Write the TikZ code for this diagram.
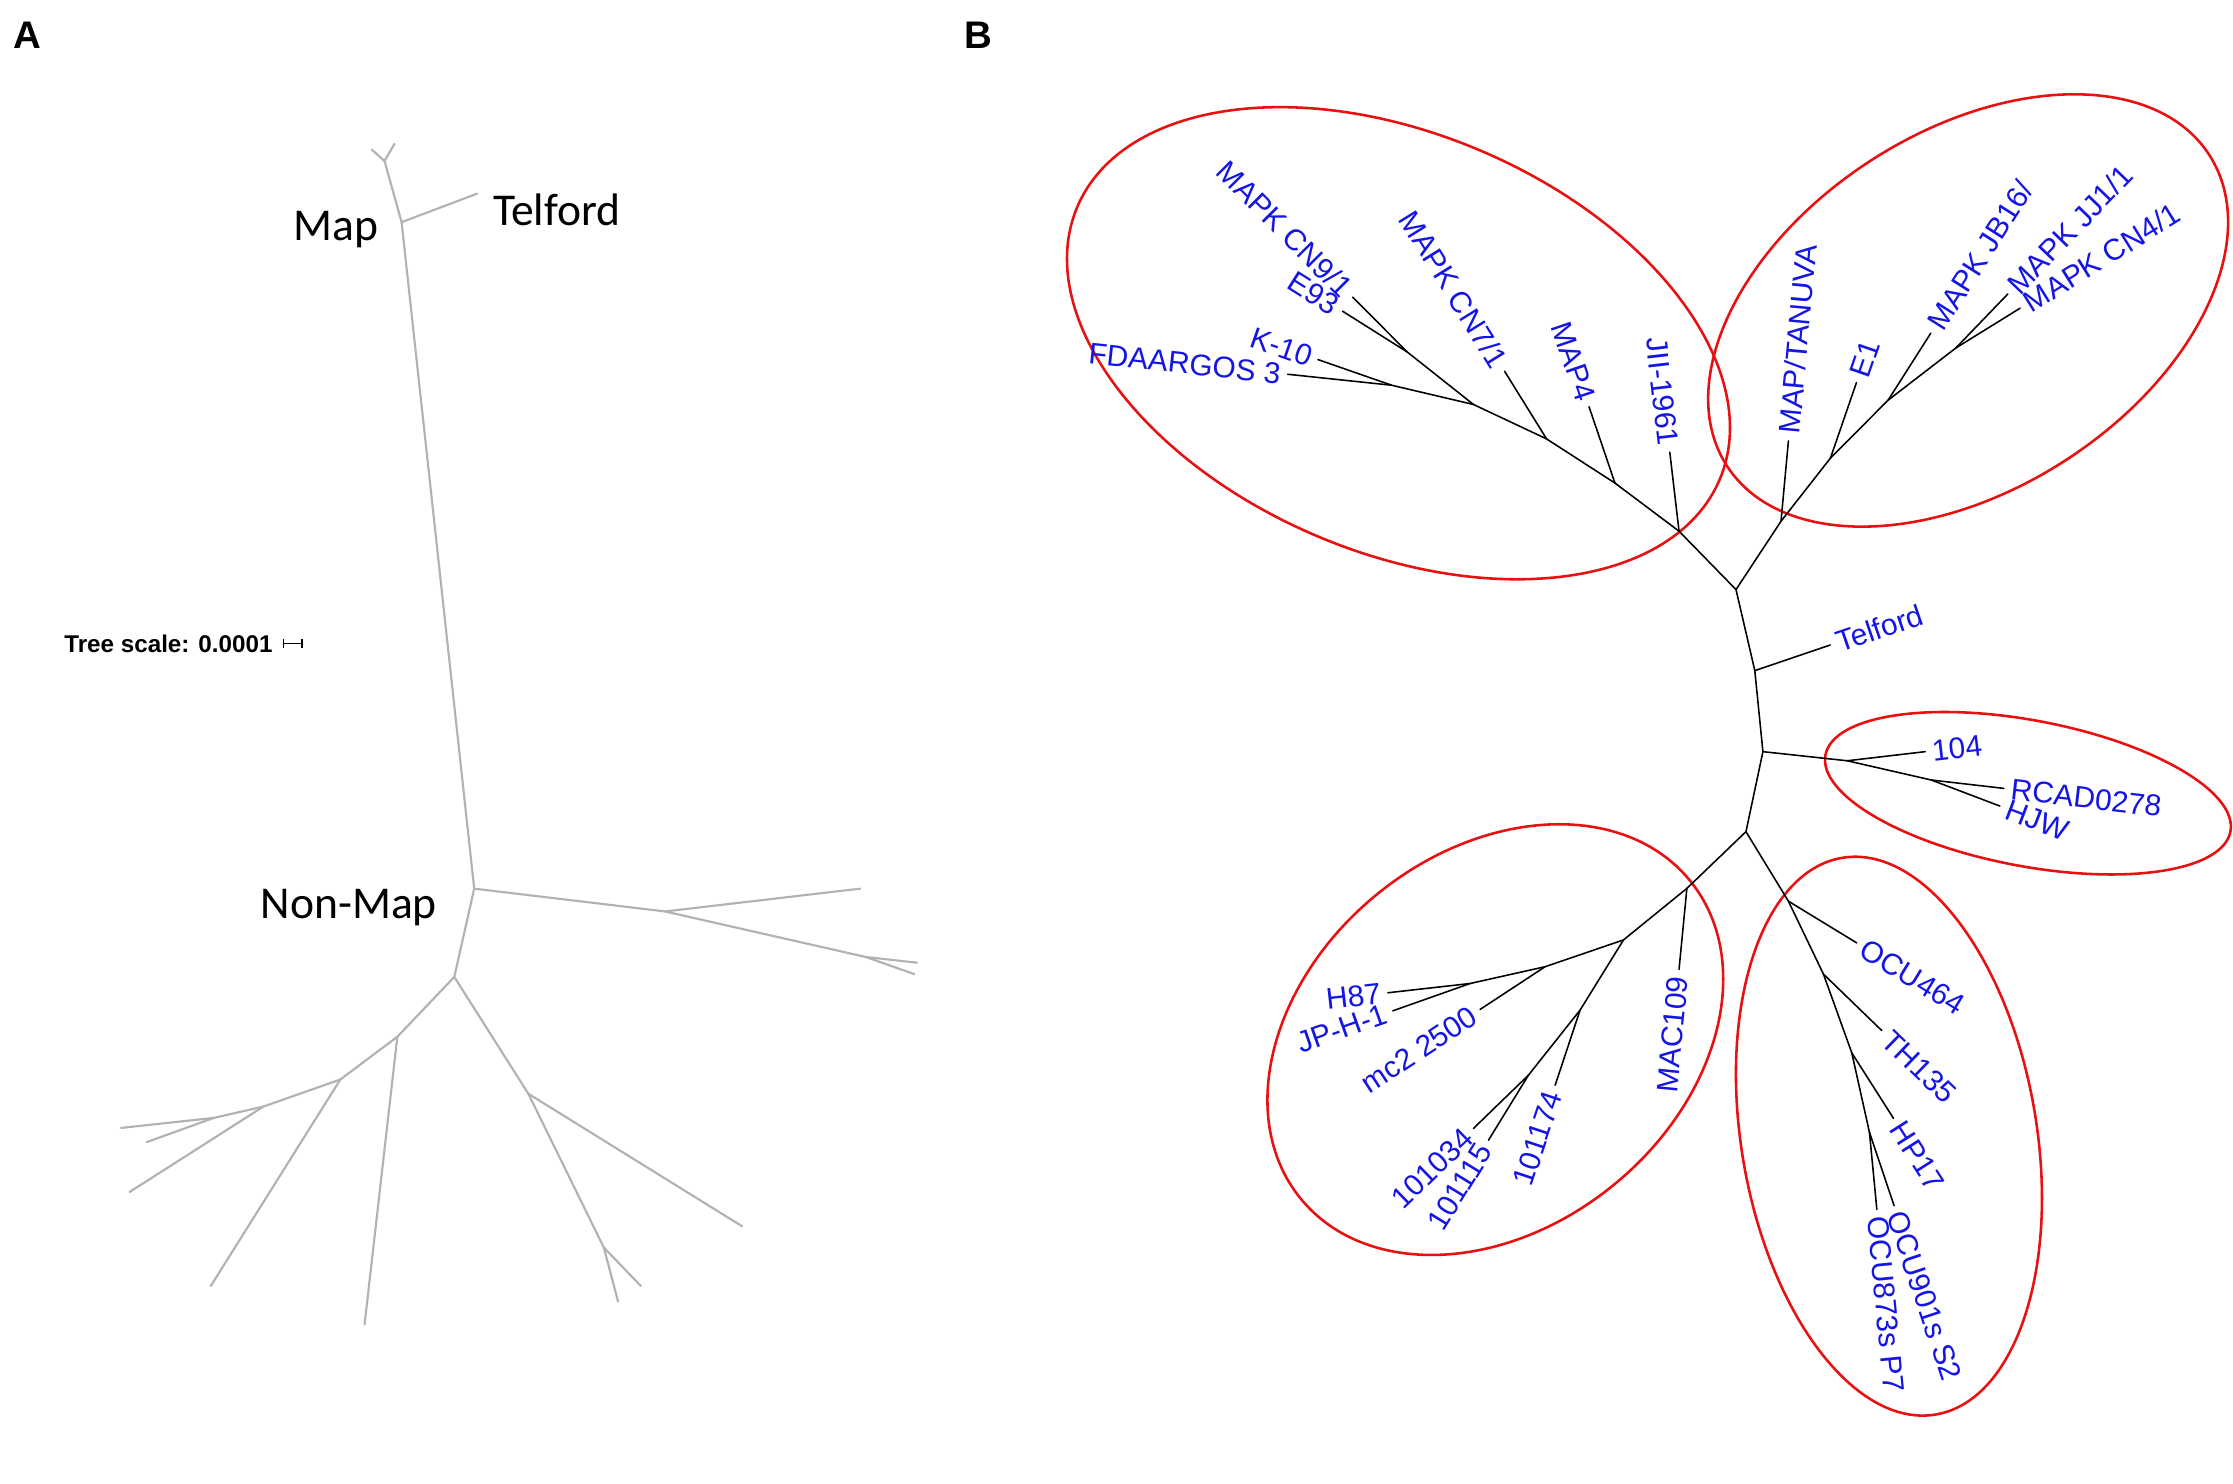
\documentclass[tikz,border=0pt]{standalone}
\usepackage{fontspec}
\setmainfont{Liberation Sans}
\newfontfamily\calibrifont{Carlito}
\definecolor{labblue}{RGB}{20,20,230}
\definecolor{ellred}{RGB}{232,16,16}
\definecolor{treegray}{RGB}{178,178,178}
\begin{document}
\begin{tikzpicture}[x=1pt,y=-1pt,
 grayedge/.style={draw=treegray, line width=1.5pt, line cap=round, line join=round},
 treeedge/.style={draw=black, line width=1.1pt, line cap=round, line join=round},
 lab/.style={text=labblue, font=\fontsize{21}{21}\selectfont, inner sep=4.5pt, sloped, pos=1},
 labw/.style={lab, anchor=west},
 labe/.style={lab, anchor=east},
 clade/.style={draw=ellred, line width=1.8pt},
 cal/.style={font=\calibrifont\fontsize{32}{32}\selectfont, text=black, inner sep=0pt},
 panel/.style={font=\bfseries\fontsize{27}{27}\selectfont, inner sep=0pt}]
\fill[white] (0,0) rectangle (1568,1042);
\useasboundingbox (0,0) rectangle (1568,1042);

% ---------------- Panel A ----------------
\node[panel] (pA) at (19,25) {A};
\node[panel] (pB) at (687,25) {B};

\coordinate (a1) at (261,105);
\coordinate (a2) at (277,101);
\coordinate (aj) at (270,113);
\coordinate (amap) at (282,156);
\coordinate (atel) at (335,136);
\coordinate (anon) at (333,624);
\coordinate (ar1) at (467,640);
\coordinate (ar1t) at (604,624);
\coordinate (ar2) at (608,672);
\coordinate (ar2a) at (644,676);
\coordinate (ar2b) at (642,684);
\coordinate (ad) at (319,686);
\coordinate (al1) at (279,728);
\coordinate (al2) at (239,758);
\coordinate (al3) at (185,777);
\coordinate (al4) at (150,785);
\coordinate (alt1) at (85,792);
\coordinate (alt2) at (103,802);
\coordinate (alt3) at (91,837);
\coordinate (alt4) at (148,903);
\coordinate (alt5) at (256,930);
\coordinate (ar3) at (371,768);
\coordinate (art1) at (521,861);
\coordinate (ar4) at (424,876);
\coordinate (art2) at (450,903);
\coordinate (art3) at (434,914);

\draw[grayedge] (a1) -- (aj) -- (a2);
\draw[grayedge] (aj) -- (amap) -- (anon) -- (ad);
\draw[grayedge] (amap) -- (atel);
\draw[grayedge] (anon) -- (ar1) -- (ar1t);
\draw[grayedge] (ar1) -- (ar2) -- (ar2a);
\draw[grayedge] (ar2) -- (ar2b);
\draw[grayedge] (ad) -- (al1) -- (al2) -- (al3) -- (al4) -- (alt1);
\draw[grayedge] (al4) -- (alt2);
\draw[grayedge] (al3) -- (alt3);
\draw[grayedge] (al2) -- (alt4);
\draw[grayedge] (al1) -- (alt5);
\draw[grayedge] (ad) -- (ar3) -- (art1);
\draw[grayedge] (ar3) -- (ar4) -- (art2);
\draw[grayedge] (ar4) -- (art3);

\node[cal] (lMap) at (236,161) {Map};
\node[cal] (lTelA) at (391,147) {Telford};
\node[cal] (lNon) at (245,637) {Non-Map};

\node[font=\bfseries\fontsize{17}{17}\selectfont, inner sep=0pt, anchor=west] (tscale) at (45,452) {Tree scale: 0.0001};
\coordinate (sb1) at (199,452);
\coordinate (sb2) at (212,452);
\draw[line width=1pt] (sb1) -- (sb2);
\draw[line width=1pt] ([yshift=3pt]sb1) -- ([yshift=-3pt]sb1);
\draw[line width=1pt] ([yshift=3pt]sb2) -- ([yshift=-3pt]sb2);

% ---------------- Panel B ----------------
% clade ellipses
\draw[clade, rotate around={-23:(982,241)}] (982,241) ellipse [x radius=245pt, y radius=147pt];
\draw[clade, rotate around={32.8:(1382,218)}] (1382,218) ellipse [x radius=201.5pt, y radius=125.5pt];
\draw[clade, rotate around={-10.7:(1424,557)}] (1424,557) ellipse [x radius=144.7pt, y radius=51.2pt];
\draw[clade, rotate around={39.3:(1050,730)}] (1050,730) ellipse [x radius=176.5pt, y radius=131.6pt];
\draw[clade, rotate around={9.55:(1326.4,797.8)}] (1326.4,797.8) ellipse [x radius=103.7pt, y radius=198.2pt];

% internal nodes
\coordinate (nTop) at (1219,414);
\coordinate (nJ) at (1179,373);
\coordinate (nM4) at (1134,339.2);
\coordinate (nC7) at (1086,308.2);
\coordinate (nA) at (1034.6,284);
\coordinate (nB) at (988.2,247.2);
\coordinate (nK) at (977.2,270.5);
\coordinate (nT) at (1250.6,366);
\coordinate (nE1) at (1285.3,321.7);
\coordinate (nJB) at (1325.8,281);
\coordinate (nJJ) at (1373.3,244.4);
\coordinate (nTel) at (1232.2,470.9);
\coordinate (n104) at (1237.9,527.8);
\coordinate (nR1) at (1297.1,534.2);
\coordinate (nR2) at (1356.1,547.7);
\coordinate (nLow) at (1226,584);
\coordinate (nMAC) at (1184.5,623.8);
\coordinate (nL1) at (1140,660);
\coordinate (nL2) at (1085,678.8);
\coordinate (nL3) at (1032.3,690.6);
\coordinate (nL4) at (1109.5,709.3);
\coordinate (nL5) at (1073.3,754.9);
\coordinate (nO1) at (1255.8,632.8);
\coordinate (nO2) at (1280.4,684);
\coordinate (nO3) at (1300.3,739.3);
\coordinate (nO4) at (1312.7,795.1);
% tips
\coordinate (tJII) at (1172.5,317.5);
\coordinate (tM4) at (1115.8,285.6);
\coordinate (tC7) at (1056.5,260.7);
\coordinate (tC9) at (949.9,208.7);
\coordinate (tE93) at (942.7,218.5);
\coordinate (tK10) at (925.5,252.5);
\coordinate (tFDA) at (904.2,262.8);
\coordinate (tTAN) at (1255.8,309.6);
\coordinate (tE1) at (1303.6,268.6);
\coordinate (tJB) at (1355.8,233.9);
\coordinate (tJJ) at (1409.9,206.4);
\coordinate (tCN4) at (1418.5,216.4);
\coordinate (tTel) at (1285.2,452.9);
\coordinate (t104) at (1351.8,527.8);
\coordinate (tRCAD) at (1407.1,553.6);
\coordinate (tHJW) at (1404.3,566);
\coordinate (tMAC) at (1179,680.7);
\coordinate (tMC2) at (1039.3,708.8);
\coordinate (tH87) at (974.5,697.1);
\coordinate (tJPH) at (978,709.8);
\coordinate (t174) at (1092,762);
\coordinate (t034) at (1034.6,792.4);
\coordinate (t115) at (1045.2,800.6);
\coordinate (tO464) at (1303.8,662.1);
\coordinate (tTH) at (1321.4,723.7);
\coordinate (tHP) at (1329.6,785.3);
\coordinate (tO901) at (1330,846.6);
\coordinate (tO873) at (1317.9,849.2);

% backbone
\draw[treeedge] (nA) -- (nC7) -- (nM4) -- (nJ) -- (nTop) -- (nT) -- (nE1) -- (nJB) -- (nJJ);
\draw[treeedge] (nTop) -- (nTel) -- (n104) -- (nLow) -- (nMAC) -- (nL1) -- (nL2) -- (nL3);
\draw[treeedge] (nLow) -- (nO1) -- (nO2) -- (nO3) -- (nO4);
\draw[treeedge] (n104) -- (nR1) -- (nR2);
\draw[treeedge] (nA) -- (nB);
\draw[treeedge] (nA) -- (nK);
\draw[treeedge] (nL1) -- (nL4) -- (nL5);

% terminal branches with labels
\draw[treeedge] (nJ) -- (tJII) node[labe] (lJII) {JII-1961};
\draw[treeedge] (nM4) -- (tM4) node[labe] (lM4) {MAP4};
\draw[treeedge] (nC7) -- (tC7) node[labe] (lC7) {MAPK CN7/1};
\draw[treeedge] (nB) -- (tC9) node[labe] (lC9) {MAPK CN9/1};
\draw[treeedge] (nB) -- (tE93) node[labe] (lE93) {E93};
\draw[treeedge] (nK) -- (tK10) node[labe] (lK10) {K-10};
\draw[treeedge] (nK) -- (tFDA) node[labe] (lFDA) {FDAARGOS 3};
\draw[treeedge] (nT) -- (tTAN) node[labw] (lTAN) {MAP/TANUVA};
\draw[treeedge] (nE1) -- (tE1) node[labw] (lE1) {E1};
\draw[treeedge] (nJB) -- (tJB) node[labw] (lJB) {MAPK JB16/};
\draw[treeedge] (nJJ) -- (tJJ) node[labw] (lJJ) {MAPK JJ1/1};
\draw[treeedge] (nJJ) -- (tCN4) node[labw] (lCN4) {MAPK CN4/1};
\draw[treeedge] (nTel) -- (tTel) node[labw] (lTel) {Telford};
\draw[treeedge] (nR1) -- (t104) node[labw] (l104) {104};
\draw[treeedge] (nR2) -- (tRCAD) node[labw] (lRCAD) {RCAD0278};
\draw[treeedge] (nR2) -- (tHJW) node[labw] (lHJW) {HJW};
\draw[treeedge] (nMAC) -- (tMAC) node[labe] (lMAC) {MAC109};
\draw[treeedge] (nL2) -- (tMC2) node[labe] (lMC2) {mc2 2500};
\draw[treeedge] (nL3) -- (tH87) node[labe] (lH87) {H87};
\draw[treeedge] (nL3) -- (tJPH) node[labe] (lJPH) {JP-H-1};
\draw[treeedge] (nL4) -- (t174) node[labe] (l174) {101174};
\draw[treeedge] (nL5) -- (t034) node[labe] (l034) {101034};
\draw[treeedge] (nL5) -- (t115) node[labe] (l115) {101115};
\draw[treeedge] (nO1) -- (tO464) node[labw] (lO464) {OCU464};
\draw[treeedge] (nO2) -- (tTH) node[labw] (lTH) {TH135};
\draw[treeedge] (nO3) -- (tHP) node[labw] (lHP) {HP17};
\draw[treeedge] (nO4) -- (tO901) node[labw] (lO901) {OCU901s S2};
\draw[treeedge] (nO4) -- (tO873) node[labw] (lO873) {OCU873s P7};
\end{tikzpicture}
\end{document}
